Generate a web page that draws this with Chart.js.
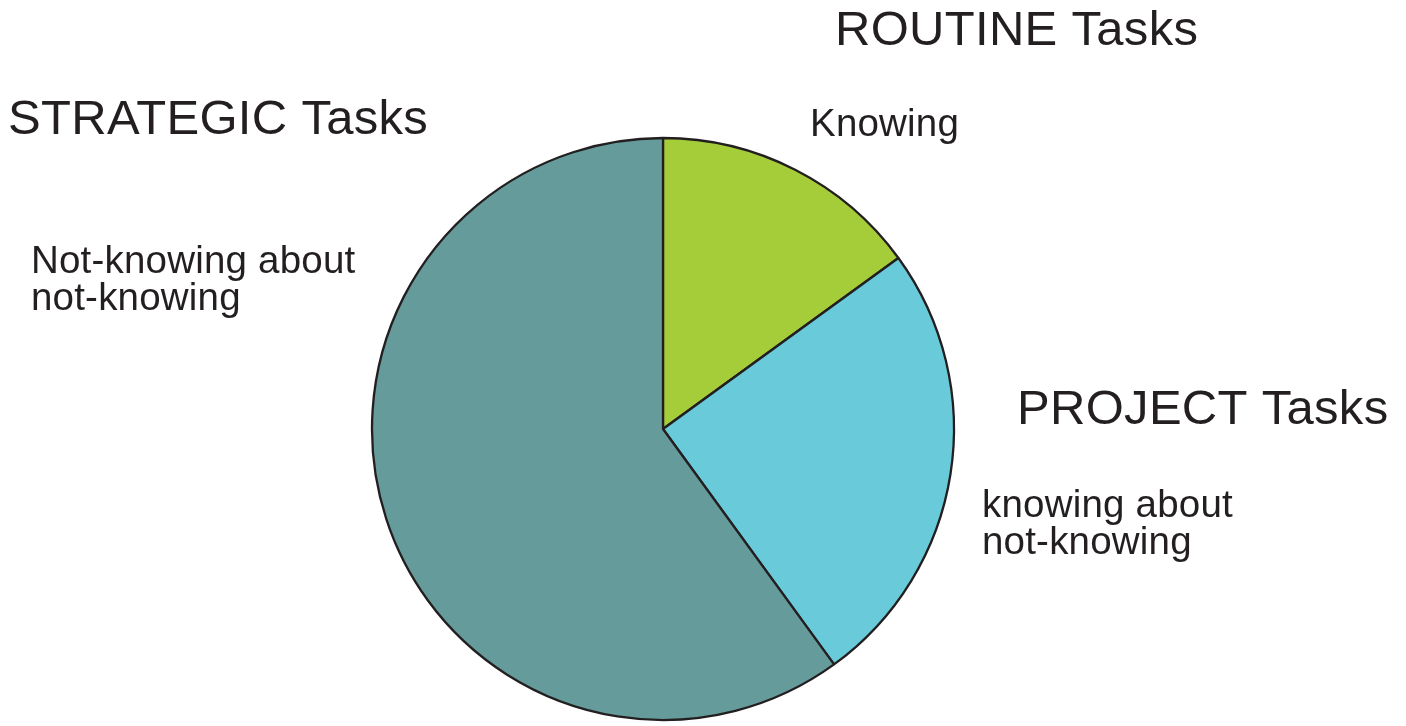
<!DOCTYPE html>
<html>
<head>
<meta charset="utf-8">
<script src="https://cdn.jsdelivr.net/npm/chart.js@4.4.1/dist/chart.umd.min.js"></script>
<style>
  html, body { margin: 0; padding: 0; background: #fff; }
  canvas { display: block; }
</style>
</head>
<body>
<canvas id="out" width="1406" height="726"></canvas>
<script>
// task types (clockwise from 12 o'clock)
const categories = ["ROUTINE Tasks", "PROJECT Tasks", "STRATEGIC Tasks"];
const shares = [15, 25, 60];
const sliceColors = ["#a5cd39", "#69cbd9", "#659b9b"];

// the smaller caption under each task type
const subLabels = [["Knowing"], ["knowing about", "not-knowing"], ["Not-knowing about", "not-knowing"]];

const textColor = "#231f20";

// headings and captions are drawn next to the pie
const labelPlugin = {
  id: "taskLabels",
  afterDraw(chart) {
    const ctx = chart.ctx;
    ctx.save();
    ctx.fillStyle = textColor;
    ctx.textAlign = "left";
    ctx.textBaseline = "alphabetic";

    // heading spots: [x, baseline]
    const heads = [[835, 45], [1017, 424], [8, 134]];
    const subs = [[810, 136], [982, 517], [31, 273]];

    ctx.font = "49px 'Liberation Sans', Arial, sans-serif";
    ctx.letterSpacing = "0.3px";
    categories.forEach((c, i) => {
      ctx.fillText(c, heads[i][0], heads[i][1]);
    });

    ctx.font = "38.5px 'Liberation Sans', Arial, sans-serif";
    ctx.letterSpacing = "0.2px";
    subLabels.forEach((lines, i) => {
      lines.forEach((line, j) => {
        ctx.fillText(line, subs[i][0], subs[i][1] + j * 37);
      });
    });
    ctx.restore();
  }
};

const chartConfig = {
  type: "pie",
  data: {
    labels: categories,
    datasets: [{
      data: shares,
      backgroundColor: sliceColors,
      borderColor: "#231f20",
      borderWidth: 2.3
    }]
  },
  options: {
    responsive: false,
    animation: false,
    radius: 291,
    layout: {
      padding: { left: 0, right: 80, top: 134, bottom: 2 }
    },
    plugins: {
      legend: { display: false },
      tooltip: { enabled: false }
    }
  },
  plugins: [labelPlugin]
};

window.chart = new Chart(document.getElementById("out").getContext("2d"), chartConfig);
</script>
</body>
</html>
